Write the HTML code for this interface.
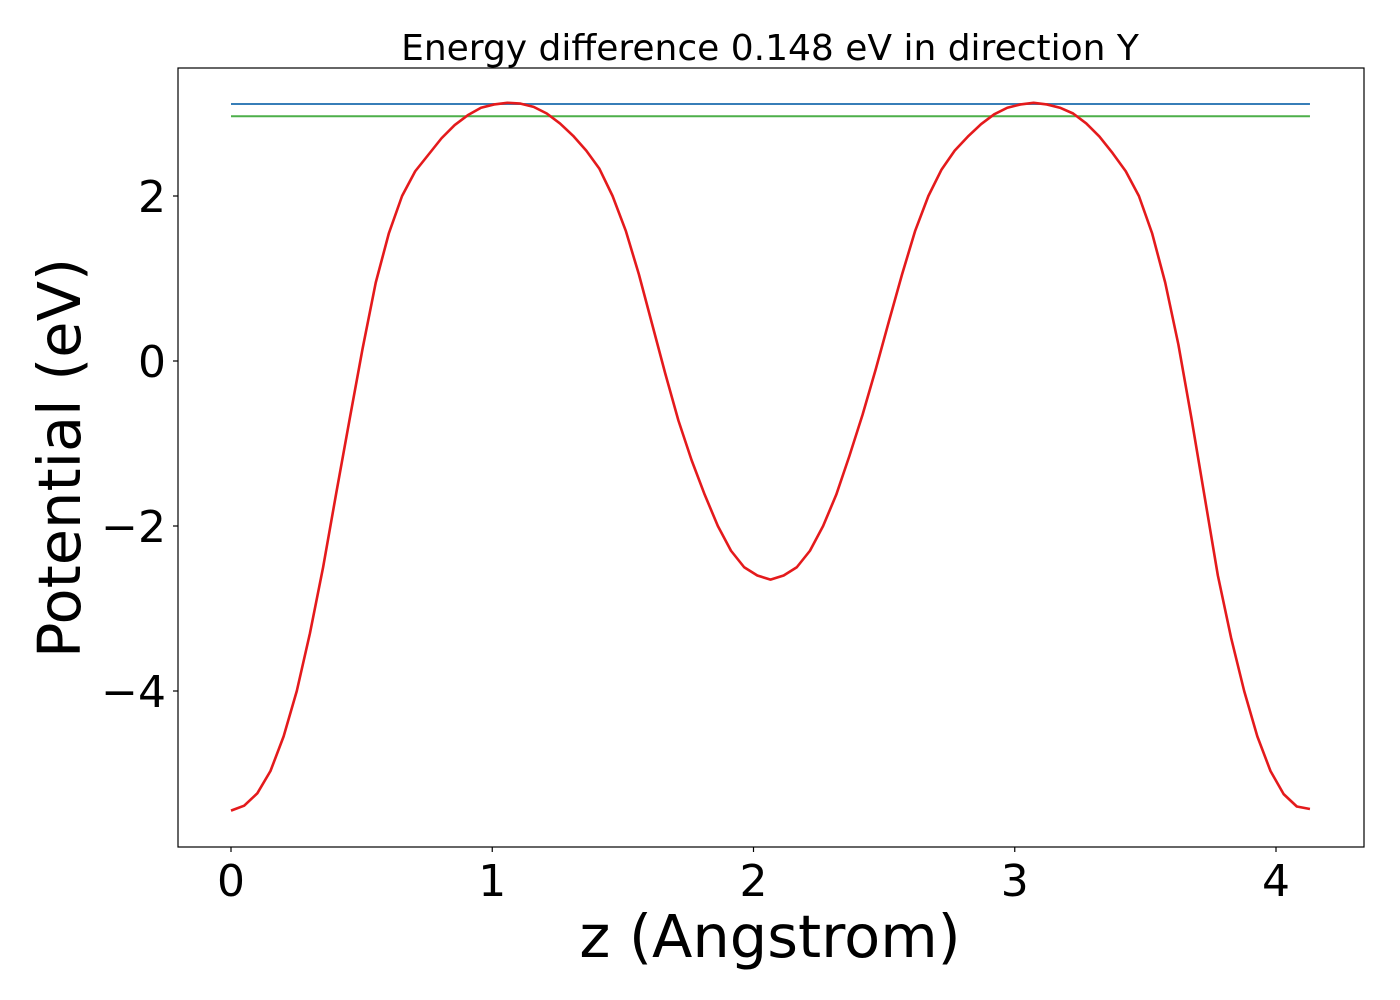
<!DOCTYPE html>
<html><head><meta charset="utf-8"><style>
html,body{margin:0;padding:0;background:#fff;}
svg{display:block;font-family:"DejaVu Sans","Liberation Sans",sans-serif;}
</style></head><body>
<svg id="chart" width="1400" height="1000" viewBox="0 0 1400 1000">
<rect x="0" y="0" width="1400" height="1000" fill="#fff"/>
<text x="770" y="60" font-size="36" text-anchor="middle" fill="#000">Energy difference 0.148 eV in direction Y</text>
<g id="series"></g>
<rect x="178" y="68" width="1186" height="779" fill="none" stroke="#000" stroke-width="1.2"/>
<g id="ticks"></g>
<text x="770" y="957" font-size="59" text-anchor="middle" fill="#000">z (Angstrom)</text>
<text transform="translate(80,458) rotate(-90)" font-size="59" text-anchor="middle" fill="#000">Potential (eV)</text>
</svg>
<script>
const potentialValues = [-5.45,-5.39,-5.24,-4.97,-4.55,-4.0,-3.3,-2.5,-1.6,-0.72,0.15,0.95,1.55,2.0,2.3,2.5,2.7,2.86,2.98,3.07,3.11,3.13,3.12,3.08,3.0,2.88,2.73,2.55,2.33,2.0,1.58,1.05,0.45,-0.15,-0.72,-1.2,-1.62,-2.0,-2.3,-2.5,-2.6,-2.65,-2.6,-2.5,-2.3,-2.0,-1.62,-1.15,-0.65,-0.1,0.48,1.05,1.58,2.0,2.32,2.55,2.72,2.87,2.99,3.07,3.11,3.13,3.11,3.07,3.0,2.88,2.72,2.52,2.3,2.0,1.55,0.95,0.2,-0.7,-1.65,-2.6,-3.35,-4.0,-4.55,-4.97,-5.25,-5.4,-5.43];
const zStart = 0;
const zEnd = 4.13;
const maxLevel = 3.115;
const secondLevel = 2.967;
const xTicks = [0,1,2,3,4];
const yTicks = [2,0,-2,-4];

function xs(v){return 231 + v*261.25;}
function ys(v){return 361 - v*82.5;}
const NS="http://www.w3.org/2000/svg";
const series=document.getElementById('series');
const ticks=document.getElementById('ticks');

function hline(val,color,name){
  const l=document.createElementNS(NS,'line');
  l.setAttribute('x1',xs(zStart));l.setAttribute('x2',xs(zEnd));
  l.setAttribute('y1',ys(val));l.setAttribute('y2',ys(val));
  l.setAttribute('stroke',color);l.setAttribute('stroke-width','2');
  
  
  series.appendChild(l);
}
hline(maxLevel,'#377eb8','max-level-line');
hline(secondLevel,'#4daf4a','second-level-line');

const n=potentialValues.length;
const pts=potentialValues.map((v,i)=>{const z=zStart+(zEnd-zStart)*i/(n-1);return xs(z).toFixed(2)+','+ys(v).toFixed(2);}).join(' ');
const pl=document.createElementNS(NS,'polyline');
pl.setAttribute('points',pts);
pl.setAttribute('fill','none');pl.setAttribute('stroke','#e41a1c');pl.setAttribute('stroke-width','2.6');
pl.setAttribute('stroke-linejoin','round');


series.appendChild(pl);

xTicks.forEach(t=>{
  const l=document.createElementNS(NS,'line');
  l.setAttribute('x1',xs(t));l.setAttribute('x2',xs(t));l.setAttribute('y1',847);l.setAttribute('y2',852);
  l.setAttribute('stroke','#000');l.setAttribute('stroke-width','1.2');
  
  
  ticks.appendChild(l);
  const tx=document.createElementNS(NS,'text');
  tx.setAttribute('x',xs(t));tx.setAttribute('y',896);tx.setAttribute('font-size','44');tx.setAttribute('text-anchor','middle');
  tx.textContent=String(t);
  
  
  ticks.appendChild(tx);
});
yTicks.forEach(t=>{
  const l=document.createElementNS(NS,'line');
  l.setAttribute('x1',173);l.setAttribute('x2',178);l.setAttribute('y1',ys(t));l.setAttribute('y2',ys(t));
  l.setAttribute('stroke','#000');l.setAttribute('stroke-width','1.2');
  
  
  ticks.appendChild(l);
  const tx=document.createElementNS(NS,'text');
  tx.setAttribute('x',166);tx.setAttribute('y',ys(t)+16);tx.setAttribute('font-size','44');tx.setAttribute('text-anchor','end');
  tx.textContent=(t<0?'\u2212'+Math.abs(t):String(t));
  
  
  ticks.appendChild(tx);
});
</script>
</body></html>
